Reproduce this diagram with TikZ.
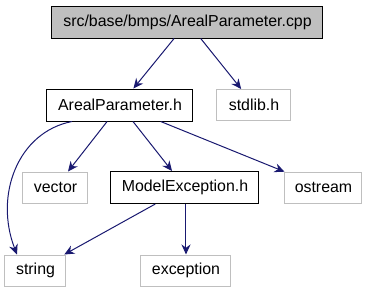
\documentclass[tikz,border=0pt]{standalone}
\usepackage{fontspec}
\setmainfont{Liberation Sans}
\usetikzlibrary{arrows.meta}
\definecolor{edgeblue}{HTML}{191970}
\definecolor{boxgray}{HTML}{BFBFBF}
\begin{document}
\begin{tikzpicture}[x=1pt,y=-1pt,line width=1pt,>=Stealth]
\tikzset{file/.style={draw=black,inner sep=0pt,minimum height=32pt,
  font=\fontsize{15.9}{18}\selectfont},
  sysfile/.style={file,draw=boxgray,minimum height=31pt},
  dep/.style={draw=edgeblue,arrows={-Stealth[length=10pt,width=9pt]}}}
\useasboundingbox (0,0) rectangle (368,293);
% ---- include graph nodes ----
\node[file,fill=boxgray,minimum width=271pt] (cpp) at (187.5,22) {src/base/bmps/ArealParameter.cpp};
\node[file,minimum width=146pt] (ap) at (120,105) {ArealParameter.h};
\node[sysfile,minimum width=74pt] (stdlib) at (254,105) {stdlib.h};
\node[sysfile,minimum width=65pt] (vector) at (55.5,187.5) {vector};
\node[file,minimum width=148pt] (me) at (185,187.5) {ModelException.h};
\node[sysfile,minimum width=77pt] (ostream) at (323.5,187.5) {ostream};
\node[sysfile,minimum width=61pt] (string) at (35.5,270.5) {string};
\node[sysfile,minimum width=90pt] (exception) at (186,270.5) {exception};
% ---- includes ----
\draw[dep] (cpp) -- (ap);
\draw[dep] (cpp) -- (stdlib);
\draw[dep] ([xshift=-48pt]ap.south) .. controls (18,132) and (-6,195) .. ([xshift=-18.5pt]string.north);
\draw[dep] (ap) -- (vector);
\draw[dep] (ap) -- (me);
\draw[dep] (ap) -- (ostream);
\draw[dep] (me) -- (string);
\draw[dep] (me.south -| exception) -- (exception);
\end{tikzpicture}
\end{document}
